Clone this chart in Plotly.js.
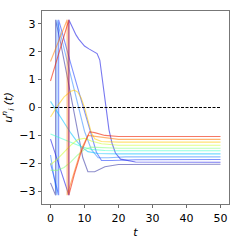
<!DOCTYPE html>
<html><head><meta charset="utf-8">
<script src="https://cdn.plot.ly/plotly-3.0.1.min.js"></script>
<style>html,body{margin:0;padding:0;background:#fff}#c{width:240px;height:240px}</style>
</head><body><div id="c"></div>
<script>
// Phase trajectories (wrapped to [-pi, pi]); repeated t marks a wrap jump
const tRed = [0, 5.4, 5.4, 7, 9, 11.5, 13, 16, 20, 50];
const uRed = [0.95, 3.14, -3.14, -2.4, -1.6, -0.87, -0.9, -1.0, -1.04, -1.04];
const tOrange = [0, 4.9, 4.9, 7, 9, 11, 13, 16, 20, 50];
const uOrange = [1.65, 3.14, -3.14, -2.3, -1.5, -1.0, -1.03, -1.1, -1.14, -1.14];
const tYellow = [0, 2, 4, 6, 7, 8, 9, 10, 11, 12, 13, 15, 20, 50];
const uYellow = [-0.34, 0.05, 0.38, 0.58, 0.62, 0.55, 0.35, 0.0, -0.45, -0.9, -1.12, -1.22, -1.24, -1.24];
const tYGreen = [0, 2, 4, 6, 8, 10, 12, 15, 20, 50];
const uYGreen = [-2.05, -1.85, -1.6, -1.35, -1.15, -1.1, -1.2, -1.3, -1.35, -1.35];
const tGreen = [0, 2, 4, 6, 8, 10, 12, 15, 20, 50];
const uGreen = [-2.25, -2.25, -2.15, -1.95, -1.7, -1.5, -1.42, -1.44, -1.46, -1.46];
const tCGreen = [0, 3, 6, 9, 12, 16, 20, 50];
const uCGreen = [-0.95, -1.1, -1.25, -1.4, -1.5, -1.54, -1.55, -1.55];
const tCyan = [0, 2, 4, 6, 7.5, 9, 11, 14, 20, 50];
const uCyan = [0.22, -0.17, -0.55, -0.92, -1.17, -1.4, -1.58, -1.65, -1.66, -1.66];
const tBlueB = [0, 1.9, 1.9, 4, 6, 8, 10, 12, 14, 17, 22, 50];
const uBlueB = [-1.7, -3.14, 3.14, 2.1, 1.1, 0.1, -0.85, -1.5, -1.8, -1.8, -1.77, -1.77];
const tBlueA = [0, 2.4, 2.4, 4, 6, 8, 10, 12, 13.5, 15, 18, 25, 50];
const uBlueA = [-2.0, -3.14, 3.14, 2.4, 1.55, 0.7, -0.15, -1.0, -1.6, -1.9, -1.9, -1.87, -1.86];
const tSlow = [0, 5.4, 5.4, 6.5, 7.5, 8.3, 10, 11.3, 13, 13.7, 14.5, 15.3, 16.5, 17.2, 18.1, 19.1, 20.6, 25, 50];
const uSlow = [-1.13, -3.14, 3.14, 2.85, 2.6, 2.45, 2.2, 2.1, 2.0, 1.93, 1.7, 1.0, 0.0, -0.8, -1.28, -1.63, -1.85, -1.95, -1.96];
const tNavy = [0, 1.5, 1.5, 3, 5, 6.5, 8, 9.5, 11, 13, 16, 20, 50];
const uNavy = [-2.7, -3.14, 3.14, 2.3, 1.05, 0.1, -0.9, -1.8, -2.3, -2.3, -2.12, -2.04, -2.03];
const tRef = [0, 50];
const uRef = [0, 0];
const xTicks = [0, 10, 20, 30, 40, 50];
const yTicks = [-3, -2, -1, 0, 1, 2, 3];

const series = [
  [tNavy, uNavy, 'rgba(0,0,140,0.45)'],
  [tSlow, uSlow, 'rgba(30,30,230,0.6)'],
  [tBlueA, uBlueA, 'rgba(0,40,255,0.5)'],
  [tBlueB, uBlueB, 'rgba(0,110,255,0.45)'],
  [tCyan, uCyan, 'rgba(0,190,255,0.55)'],
  [tCGreen, uCGreen, 'rgba(60,255,200,0.55)'],
  [tGreen, uGreen, 'rgba(130,255,120,0.55)'],
  [tYGreen, uYGreen, 'rgba(200,255,40,0.55)'],
  [tYellow, uYellow, 'rgba(255,200,0,0.55)'],
  [tOrange, uOrange, 'rgba(255,120,0,0.55)'],
  [tRed, uRed, 'rgba(240,30,0,0.6)']
];
const traces = series.map(s => ({x: s[0], y: s[1], mode: 'lines', line: {color: s[2], width: 1.1}, hoverinfo: 'skip'}));
traces.push({x: tRef, y: uRef, mode: 'lines', line: {color: '#000', width: 1, dash: '3px,1.5px'}});

const font = {family: 'DejaVu Sans', size: 11, color: '#000'};
Plotly.newPlot('c', traces, {
  width: 240, height: 240,
  margin: {l: 42, r: 11, t: 11, b: 36},
  paper_bgcolor: '#fff', plot_bgcolor: '#fff',
  showlegend: false, font: font,
  xaxis: {range: [-2.5, 52.5], tickvals: xTicks, ticks: 'outside', ticklen: 3.5, tickwidth: 0.8,
    showline: true, mirror: true, linecolor: '#555', linewidth: 0.8, showgrid: false, zeroline: false,
    title: {text: '<i>t</i>', font: font, standoff: 4}},
  yaxis: {range: [-3.456, 3.456], tickvals: yTicks, ticks: 'outside', ticklen: 3.5, tickwidth: 0.8,
    showline: true, mirror: true, linecolor: '#555', linewidth: 0.8, showgrid: false, zeroline: false,
    title: {text: '<i>u</i><sup><i>n</i></sup><sub><i>i</i></sub><i> (t)</i>', font: font, standoff: 6}}
}, {staticPlot: true, displayModeBar: false});
</script></body></html>
